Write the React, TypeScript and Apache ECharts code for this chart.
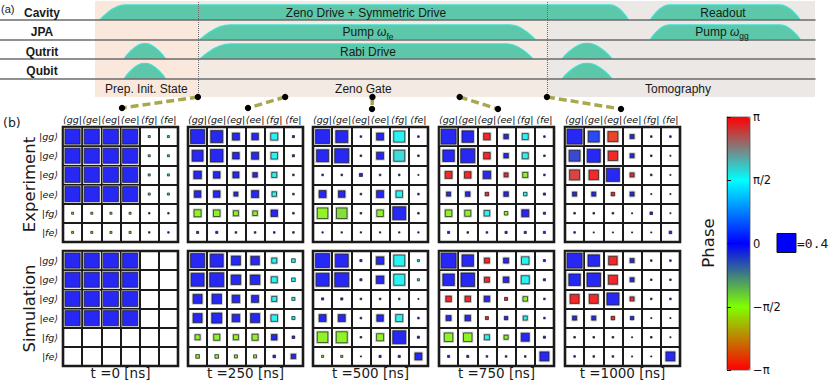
import React, { useEffect, useRef } from 'react';
import * as echarts from 'echarts';

// ---------- Panel (a): pulse sequence (time in ns) ----------
const timelineRows = ['Cavity', 'JPA', 'Qutrit', 'Qubit'];
const stageNames = ['Prep. Init. State', 'Zeno Gate', 'Tomography'];
const stageBounds = [[-295, 0], [0, 1000], [1000, 1768]];
const stageBoundaryTimes = [0, 1000];

const cavityPulses = [
  [[-281, 0], [-209, 0.94], [1182, 0.94], [1234, 0]],
  [[1296, 0], [1350, 0.94], [1668, 0.94], [1726, 0]],
];
const jpaPulses = [
  [[6, 0], [92, 0.91], [894, 0.91], [966, 0]],
  [[1296, 0], [1350, 0.91], [1668, 0.91], [1726, 0]],
];
const qutritPulses = [
  [[-212, 0], [-152, 0.98], [-92, 0]],
  [[6, 0], [92, 0.94], [886, 0.94], [960, 0]],
  [[1043, 0], [1115, 1.0], [1187, 0]],
];
const qubitPulses = [
  [[-212, 0], [-152, 1.0], [-92, 0]],
  [[1043, 0], [1115, 1.0], [1187, 0]],
];

// ---------- Panel (b): density matrices ----------
const basisBras = ['⟨gg|', '⟨ge|', '⟨eg|', '⟨ee|', '⟨fg|', '⟨fe|'];
const basisKets = ['|gg⟩', '|ge⟩', '|eg⟩', '|ee⟩', '|fg⟩', '|fe⟩'];
const snapshotTimes = [0, 250, 500, 750, 1000];
const phaseTickLabels = ['−π', '−π/2', '0', 'π/2', 'π'];
const legendMagnitude = 0.4;

// magnitudes |rho_ij|, phases in units of pi
const expMag0 = [
  [0.25, 0.25, 0.25, 0.25, 0.004, 0.004],
  [0.25, 0.25, 0.25, 0.25, 0.004, 0.004],
  [0.25, 0.25, 0.25, 0.25, 0.004, 0.004],
  [0.25, 0.25, 0.25, 0.25, 0.004, 0.004],
  [0.004, 0.004, 0.004, 0.004, 0.002, 0.002],
  [0.004, 0.004, 0.004, 0.004, 0.002, 0.002],
];
const expPhase0 = [
  [0, 0, 0, 0, 0.5, 0.5],
  [0, 0, 0, 0, 0.5, 0.5],
  [0, 0, 0, 0, 0.5, 0.5],
  [0, 0, 0, 0, 0.5, 0.5],
  [-0.5, -0.5, -0.5, -0.5, 0, 0],
  [-0.5, -0.5, -0.5, -0.5, 0, 0],
];
const expMag250 = [
  [0.218, 0.16, 0.054, 0.047, 0.054, 0.0045],
  [0.134, 0.174, 0.047, 0.054, 0.047, 0.0045],
  [0.0625, 0.047, 0.04, 0.0225, 0.028, 0.0025],
  [0.047, 0.047, 0.018, 0.054, 0.0225, 0.0025],
  [0.054, 0.047, 0.028, 0.0225, 0.047, 0.0025],
  [0.0045, 0.0045, 0.0025, 0.0025, 0.0025, 0.0025],
];
const expPhase250 = [
  [0, 0, 0, 0, 0.5, 0],
  [0, 0, 0, 0, 0.5, 0],
  [0, 0, 0, 0, 0.5, 0],
  [0, 0, 0, 0, 0.5, 0],
  [-0.5, -0.5, -0.5, -0.5, 0, 0],
  [0, 0, 0, 0, 0, 0],
];
const expMag500 = [
  [0.218, 0.16, 0.0025, 0.054, 0.134, 0.0025],
  [0.16, 0.218, 0.0025, 0.054, 0.134, 0.0025],
  [0.0025, 0.0025, 0.01, 0.0025, 0.0025, 0.001],
  [0.054, 0.047, 0.0025, 0.054, 0.047, 0.0025],
  [0.123, 0.123, 0.0025, 0.047, 0.188, 0.0025],
  [0.0016, 0.0016, 0.0016, 0.0016, 0.0016, 0.0016],
];
const expPhase500 = [
  [0, 0, 0, 0, 0.5, 0],
  [0, 0, 0, 0, 0.56, 0],
  [0, 0, 0, 0, 0, 0],
  [0, 0, 0, 0, 0.5, 0],
  [-0.5, -0.45, 0, -0.5, 0, 0],
  [0, 0, 0, 0, 0, 0],
];
const expMag750 = [
  [0.25, 0.147, 0.047, 0.0225, 0.04, 0.0025],
  [0.147, 0.218, 0.047, 0.0225, 0.04, 0.0025],
  [0.054, 0.047, 0.0625, 0.018, 0.028, 0.0025],
  [0.018, 0.0225, 0.014, 0.0225, 0.014, 0.0045],
  [0.047, 0.04, 0.034, 0.014, 0.054, 0.0045],
  [0.0045, 0.0025, 0.0025, 0.0045, 0.0045, 0.0045],
];
const expPhase750 = [
  [0, 0, 1, 0, 0.5, 0],
  [0, 0, 1, 0, 0.5, 0],
  [1, 1, 0, 1, -0.5, 0],
  [0, 0, 1, 0, 0.5, 0],
  [-0.5, -0.5, 0.5, -0.5, 0, 0],
  [0, 0, 0, 0, 0, 0],
];
const expMag1000 = [
  [0.25, 0.134, 0.111, 0.018, 0.0025, 0.0025],
  [0.134, 0.188, 0.1, 0.018, 0.0025, 0.001],
  [0.111, 0.1, 0.188, 0.018, 0.0025, 0.001],
  [0.018, 0.018, 0.014, 0.018, 0.001, 0.001],
  [0.0025, 0.0025, 0.0025, 0.001, 0.007, 0.001],
  [0.0025, 0.001, 0.001, 0.001, 0.001, 0.007],
];
const expPhase1000 = [
  [0, 0.08, -0.93, 0, 0, 0],
  [-0.08, 0, 1, 0, 0, 0],
  [0.93, 1, 0, 1, 0, 0],
  [0, 0, 1, 0, 0, 0],
  [0, 0, 0, 0, 0, 0],
  [0, 0, 0, 0, 0, 0],
];

const simMag0 = [
  [0.25, 0.25, 0.25, 0.25, 0, 0],
  [0.25, 0.25, 0.25, 0.25, 0, 0],
  [0.25, 0.25, 0.25, 0.25, 0, 0],
  [0.25, 0.25, 0.25, 0.25, 0, 0],
  [0, 0, 0, 0, 0, 0],
  [0, 0, 0, 0, 0, 0],
];
const simPhase0 = [
  [0, 0, 0, 0, 0, 0],
  [0, 0, 0, 0, 0, 0],
  [0, 0, 0, 0, 0, 0],
  [0, 0, 0, 0, 0, 0],
  [0, 0, 0, 0, 0, 0],
  [0, 0, 0, 0, 0, 0],
];
const simMag250 = [
  [0.218, 0.188, 0.09, 0.08, 0.028, 0.014],
  [0.188, 0.218, 0.1, 0.1, 0.04, 0.014],
  [0.09, 0.1, 0.0625, 0.054, 0.028, 0.01],
  [0.09, 0.111, 0.0625, 0.09, 0.047, 0.01],
  [0.028, 0.04, 0.028, 0.04, 0.034, 0.007],
  [0.014, 0.014, 0.01, 0.01, 0.007, 0.0225],
];
const simPhase250 = [
  [0, 0, 0, 0, 0.5, 0.5],
  [0, 0, 0, 0, 0.5, 0.5],
  [0, 0, 0, 0, 0.5, 0.5],
  [0, 0, 0, 0, 0.5, 0.5],
  [-0.5, -0.5, -0.5, -0.5, 0, 0],
  [-0.5, -0.5, -0.5, -0.5, 0, 0],
];
const simMag500 = [
  [0.218, 0.188, 0.0045, 0.0625, 0.134, 0.0045],
  [0.188, 0.218, 0.0045, 0.0625, 0.134, 0.0045],
  [0.0045, 0.0045, 0.0025, 0.0025, 0.0025, 0.001],
  [0.054, 0.054, 0.0025, 0.047, 0.054, 0.0025],
  [0.123, 0.134, 0.0025, 0.054, 0.188, 0.0045],
  [0.0045, 0.0045, 0.001, 0.0045, 0.0045, 0.054],
];
const simPhase500 = [
  [0, 0, 0, 0, 0.5, 0.5],
  [0, 0, 0, 0, 0.5, 0.5],
  [0, 0, 0, 0, 0, 0],
  [0, 0, 0, 0, 0.5, 0],
  [-0.5, -0.5, 0, -0.5, 0, 0],
  [-0.5, -0.5, 0, 0, 0, 0],
];
const simMag750 = [
  [0.25, 0.147, 0.028, 0.028, 0.0625, 0.0045],
  [0.147, 0.203, 0.028, 0.034, 0.071, 0.0045],
  [0.034, 0.034, 0.034, 0.01, 0.0225, 0.0025],
  [0.028, 0.034, 0.01, 0.014, 0.018, 0.0025],
  [0.08, 0.08, 0.028, 0.018, 0.071, 0.0045],
  [0.0045, 0.0045, 0.0025, 0.0025, 0.0025, 0.09],
];
const simPhase750 = [
  [0, 0, 1, 0, 0.5, 0],
  [0, 0, 1, 0, 0.5, 0],
  [1, 1, 0, 1, -0.5, 0],
  [0, 0, 1, 0, 0.5, 0],
  [-0.5, -0.5, 0.5, -0.5, 0, 0],
  [0, 0, 0, 0, 0, 0],
];
const simMag1000 = [
  [0.25, 0.147, 0.08, 0.018, 0.0025, 0.0025],
  [0.147, 0.203, 0.09, 0.018, 0.0025, 0.0025],
  [0.09, 0.09, 0.16, 0.018, 0.0025, 0.0025],
  [0.018, 0.018, 0.014, 0.014, 0.001, 0.001],
  [0.0025, 0.0025, 0.0025, 0.001, 0.0025, 0.001],
  [0.0025, 0.0025, 0.0025, 0.001, 0.001, 0.09],
];
const simPhase1000 = [
  [0, 0, 1, 0, 0, 0],
  [0, 0, 1, 0, 0, 0],
  [1, 1, 0, 1, 0, 0],
  [0, 0, 1, 0, 0, 0],
  [0, 0, 0, 0, 0, 0],
  [0, 0, 0, 0, 0, 0],
];

const expMags = [expMag0, expMag250, expMag500, expMag750, expMag1000];
const expPhases = [expPhase0, expPhase250, expPhase500, expPhase750, expPhase1000];
const simMags = [simMag0, simMag250, simMag500, simMag750, simMag1000];
const simPhases = [simPhase0, simPhase250, simPhase500, simPhase750, simPhase1000];

// ---------- layout / style ----------
const TL_MIN = -567;
const TL_MAX = 1768;
const TL_LEFT = 0;
const TL_WIDTH = 815;
const ROW_BASELINES = [20, 39.5, 59, 79];
const ROW_HEIGHT = 16;
const MAT_LEFT = [63, 188, 313, 439, 565];
const MAT_SIZE = 115;
const EXP_TOP = 127;
const SIM_TOP = 251;
const SIDE_SCALE = 30; // px per sqrt(|rho|)
const sideOf = (m: number) => SIDE_SCALE * Math.sqrt(m);
const haloOf = (m: number) => {
  const s = sideOf(m);
  return s + (s > 4 ? 2.6 : 1.2);
};
const timeToX = (t: number) => TL_LEFT + ((t - TL_MIN) / (TL_MAX - TL_MIN)) * TL_WIDTH;
const connectorOffsets = [[1.5, 108], [2.5, 108], [1.5, 109], [1.5, 109], [-1.5, 109]];

const SANS = 'Liberation Sans';
const DJ = 'DejaVu Sans';

function txt(text: string, x: number, y: number, font: string, align = 'center', extra: any = {}) {
  return {
    type: 'text', x, y, z: 100, silent: true, ...extra,
    style: { text, font, fill: '#1a1a1a', align, textAlign: align, verticalAlign: 'middle', textVerticalAlign: 'middle' },
  };
}

function richTxt(parts: string, rich: any, x: number, y: number) {
  return {
    type: 'text', x, y, z: 100, silent: true,
    style: { text: parts, rich, fill: '#1a1a1a', align: 'center', textAlign: 'center', verticalAlign: 'middle', textVerticalAlign: 'middle', font: `12px ${SANS}` },
  };
}

function buildOption() {
  const grids: any[] = [];
  const xAxes: any[] = [];
  const yAxes: any[] = [];
  const series: any[] = [];

  // background grid with stages
  grids.push({ left: TL_LEFT, width: TL_WIDTH, top: 1, height: 96, show: false });
  xAxes.push({ gridIndex: 0, type: 'value', min: TL_MIN, max: TL_MAX, show: false });
  yAxes.push({ gridIndex: 0, type: 'value', min: 0, max: 1, show: false });
  const stageColors = ['#fbe8dc', '#f3eae3', '#ebe8e6'];
  const stageLabelOffsets = [[0, 0], [-9, 0], [-3, 0]];
  series.push({
    type: 'line', xAxisIndex: 0, yAxisIndex: 0, data: [], silent: true, z: 0,
    markArea: {
      silent: true,
      label: { show: true, position: 'insideBottom', distance: 2, fontSize: 12, fontFamily: SANS, color: '#1a1a1a' },
      data: stageBounds.map((b, i) => [
        { xAxis: b[0], name: stageNames[i], itemStyle: { color: stageColors[i] }, label: { offset: stageLabelOffsets[i] } },
        { xAxis: b[1] },
      ]),
    },
    markLine: {
      silent: true, symbol: ['none', 'none'], label: { show: false },
      lineStyle: { type: 'dotted', color: '#6e6e6e', width: 1 },
      data: stageBoundaryTimes.map((t) => ({ xAxis: t })),
    },
  });

  const rowPulses = [cavityPulses, jpaPulses, qutritPulses, qubitPulses];
  rowPulses.forEach((pulses, r) => {
    const gi = grids.length;
    grids.push({ left: TL_LEFT, width: TL_WIDTH, top: ROW_BASELINES[r] - ROW_HEIGHT, height: ROW_HEIGHT, show: false });
    xAxes.push({
      gridIndex: gi, type: 'value', min: TL_MIN, max: TL_MAX, z: 5,
      axisLine: { show: true, onZero: false, lineStyle: { color: '#6b6b6b', width: 1.6 } },
      axisTick: { show: false }, axisLabel: { show: false }, splitLine: { show: false },
    });
    yAxes.push({ gridIndex: gi, type: 'value', min: 0, max: 1, show: false });
    pulses.forEach((p) => {
      series.push({
        type: 'line', xAxisIndex: gi, yAxisIndex: gi, data: p, smooth: 0.5, smoothMonotone: 'x',
        symbol: 'none', silent: true, z: 3,
        lineStyle: { color: '#3fe0d2', width: 1.2 },
        areaStyle: { color: '#5dc7a9', opacity: 1 },
      });
    });
  });

  // density matrices
  const coloredIdx: number[] = [];
  const sets = [
    { mags: expMags, phases: expPhases, top: EXP_TOP, isExp: true },
    { mags: simMags, phases: simPhases, top: SIM_TOP, isExp: false },
  ];
  const lineStyle = { color: '#1a1a1a', width: 2 };
  sets.forEach((set) => {
    set.mags.forEach((mag, k) => {
      const gi = grids.length;
      grids.push({ left: MAT_LEFT[k], top: set.top, width: MAT_SIZE, height: MAT_SIZE, show: true, borderColor: '#1a1a1a', borderWidth: 2.6, backgroundColor: '#ffffff' });
      xAxes.push({
        gridIndex: gi, type: 'category', data: basisBras, position: set.isExp ? 'top' : 'bottom',
        axisLine: { show: false }, axisTick: { show: false },
        axisLabel: { show: set.isExp, interval: 0, margin: 3, fontSize: 9.5, fontStyle: 'italic', fontFamily: DJ, color: '#111' },
        splitLine: { show: true, interval: 0, lineStyle },
      });
      yAxes.push({
        gridIndex: gi, type: 'category', data: basisKets, inverse: true,
        axisLine: { show: false }, axisTick: { show: false },
        axisLabel: { show: k === 0, interval: 0, margin: 5, fontSize: 9.5, fontStyle: 'italic', fontFamily: DJ, color: '#111' },
        splitLine: { show: true, interval: 0, lineStyle },
      });
      const pts: number[][] = [];
      mag.forEach((row, r) => row.forEach((m, c) => {
        if (m > 0) pts.push([c, r, m, set.phases[k][r][c] * Math.PI]);
      }));
      series.push({
        type: 'scatter', xAxisIndex: gi, yAxisIndex: gi, data: pts, symbol: 'rect', silent: true, z: 3,
        symbolSize: (v: number[]) => haloOf(v[2]),
        itemStyle: { color: '#b8b8b8' },
      });
      coloredIdx.push(series.length);
      series.push({
        type: 'scatter', xAxisIndex: gi, yAxisIndex: gi, data: pts, symbol: 'rect', silent: true, z: 4,
        symbolSize: (v: number[]) => sideOf(v[2]),
        itemStyle: { borderColor: '#111', borderWidth: 0.8 },
      });
    });
  });

  // colorbar axis
  const cbi = grids.length;
  grids.push({ left: 727, top: 117, width: 23, height: 253, show: true, borderColor: '#555', borderWidth: 0.8, z: 10 });
  xAxes.push({ gridIndex: cbi, type: 'value', show: false });
  yAxes.push({
    gridIndex: cbi, type: 'value', position: 'right', min: -Math.PI, max: Math.PI, interval: Math.PI / 2, z: 10,
    axisLine: { show: true, lineStyle: { color: '#333', width: 0.8 } },
    axisTick: { show: true, length: 4, lineStyle: { color: '#111', width: 1 } },
    axisLabel: {
      margin: 3, fontSize: 11.5, fontFamily: DJ, color: '#111',
      formatter: (v: number) => phaseTickLabels[Math.round(v / (Math.PI / 2)) + 2],
    },
    splitLine: { show: false },
  });

  const graphic: any[] = [];
  graphic.push(txt('(a)', 1, 9, `11px ${SANS}`, 'left'));
  const rowLabelY = [12.5, 32, 51.5, 71];
  timelineRows.forEach((name, i) => graphic.push(txt(name, 42, rowLabelY[i], `bold 12px ${SANS}`)));
  graphic.push(txt('Zeno Drive + Symmetric Drive', 366, 12.5, `12px ${SANS}`));
  graphic.push(txt('Readout', 723, 12.5, `12px ${SANS}`));
  graphic.push(txt('Rabi Drive', 368, 52, `12px ${SANS}`));
  const rich = {
    a: { fontSize: 12, fontFamily: SANS, lineHeight: 18, fill: '#1a1a1a', color: '#1a1a1a' },
    w: { fontSize: 12, fontFamily: SANS, fontStyle: 'italic', lineHeight: 18, fill: '#1a1a1a', color: '#1a1a1a' },
    s: { fontSize: 8.5, fontFamily: SANS, lineHeight: 10, verticalAlign: 'bottom', fill: '#1a1a1a', color: '#1a1a1a' },
  };
  graphic.push(richTxt('{a|Pump }{w|ω}{s|fe}', rich, 368, 32));
  graphic.push(richTxt('{a|Pump }{w|ω}{s|gg}', rich, 722, 31.5));

  // connectors
  snapshotTimes.forEach((t, k) => {
    const x1 = timeToX(t);
    const y1 = 97;
    const x2 = MAT_LEFT[k] + MAT_SIZE / 2 + connectorOffsets[k][0];
    const y2 = connectorOffsets[k][1];
    graphic.push({ type: 'line', z: 100, silent: true, shape: { x1, y1, x2, y2 }, style: { stroke: '#a9a84e', lineWidth: 3.5, lineDash: [8, 4] } });
    graphic.push({ type: 'circle', z: 101, silent: true, shape: { cx: x1, cy: y1, r: 3.2 }, style: { fill: '#000' } });
    graphic.push({ type: 'circle', z: 101, silent: true, shape: { cx: x2, cy: y2, r: 3.2 }, style: { fill: '#000' } });
    graphic.push(txt(`t =${t} [ns]`, MAT_LEFT[k] + MAT_SIZE / 2, 373, `13.5px ${DJ}`));
  });

  graphic.push(txt('(b)', 3, 122, `12.5px ${DJ}`, 'left'));
  graphic.push(txt('Experiment', 29, EXP_TOP + MAT_SIZE / 2, `16.5px ${DJ}`, 'center', { rotation: Math.PI / 2 }));
  graphic.push(txt('Simulation', 29, SIM_TOP + MAT_SIZE / 2, `16.5px ${DJ}`, 'center', { rotation: Math.PI / 2 }));
  graphic.push(txt('Phase', 708, 243, `16.5px ${DJ}`, 'center', { rotation: Math.PI / 2 }));

  const ls = sideOf(legendMagnitude);
  graphic.push({ type: 'rect', z: 100, silent: true, shape: { x: 777, y: 243 - ls / 2, width: ls, height: ls }, style: { fill: '#0000ff', stroke: '#111', lineWidth: 1 } });
  graphic.push(txt(`=${legendMagnitude}`, 797, 243, `13px DejaVu Sans Mono`, 'left'));

  return {
    animation: false,
    backgroundColor: '#ffffff',
    grid: grids,
    xAxis: xAxes,
    yAxis: yAxes,
    series,
    visualMap: {
      type: 'continuous', min: -Math.PI, max: Math.PI, dimension: 3, seriesIndex: coloredIdx,
      inRange: { color: ['#ff0000', '#80ff00', '#0000ff', '#00ffff', '#ff0000'] },
      left: 727, top: 117, itemWidth: 23, itemHeight: 253, padding: 0, calculable: false,
      orient: 'vertical', hoverLink: false, show: true, text: null,
    },
    graphic,
  };
}

export default function App() {
  const ref = useRef<HTMLDivElement>(null);
  useEffect(() => {
    const chart = echarts.init(ref.current!, undefined, { renderer: 'svg' });
    chart.setOption(buildOption() as any);
    return () => chart.dispose();
  }, []);
  return <div ref={ref} style={{ position: 'fixed', left: 0, top: 0, width: 830, height: 380, background: '#fff' }} />;
}
